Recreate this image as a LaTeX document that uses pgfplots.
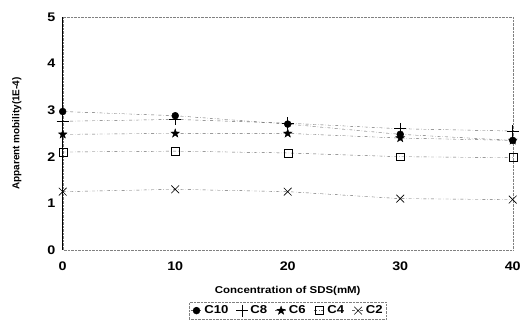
\documentclass[border=0pt]{standalone}
\usepackage{fontspec}
\setmainfont{Liberation Sans}
\newfontfamily\wide[FakeStretch=1.15]{Liberation Sans}
\usepackage{pgfplots}
\pgfplotsset{compat=1.18}
\pgfdeclareplotmark{fstar}{%
  \pgfpathmoveto{\pgfpoint{0pt}{\pgfplotmarksize}}%
  \pgfpathlineto{\pgfpoint{0.235\pgfplotmarksize}{0.324\pgfplotmarksize}}%
  \pgfpathlineto{\pgfpoint{0.951\pgfplotmarksize}{0.309\pgfplotmarksize}}%
  \pgfpathlineto{\pgfpoint{0.380\pgfplotmarksize}{-0.124\pgfplotmarksize}}%
  \pgfpathlineto{\pgfpoint{0.588\pgfplotmarksize}{-0.809\pgfplotmarksize}}%
  \pgfpathlineto{\pgfpoint{0pt}{-0.4\pgfplotmarksize}}%
  \pgfpathlineto{\pgfpoint{-0.588\pgfplotmarksize}{-0.809\pgfplotmarksize}}%
  \pgfpathlineto{\pgfpoint{-0.380\pgfplotmarksize}{-0.124\pgfplotmarksize}}%
  \pgfpathlineto{\pgfpoint{-0.951\pgfplotmarksize}{0.309\pgfplotmarksize}}%
  \pgfpathlineto{\pgfpoint{-0.235\pgfplotmarksize}{0.324\pgfplotmarksize}}%
  \pgfpathclose
  \pgfusepathqfillstroke}
\begin{document}
\begin{tikzpicture}
\begin{axis}[
  scale only axis,
  width=452pt, height=234pt,
  xmin=0, xmax=40, ymin=0, ymax=5,
  xtick={0,10,20,30,40}, ytick={0,1,2,3,4,5},
  axis line style={densely dotted, gray},
  tick style={draw=none},
  ticklabel style={font=\fontsize{12.5}{14}\selectfont\wide\bfseries},
  xticklabel style={yshift=-8pt},
  yticklabel style={xshift=-4pt},
  /pgf/number format/assume math mode=true,
  xlabel={\wide\bfseries Concentration of SDS(mM)},
  ylabel={\bfseries Apparent mobility(1E-4)},
  label style={font=\fontsize{10.7}{12}\selectfont},
  every axis x label/.style={at={(rel axis cs:0.5,0)}, yshift=-41pt, anchor=center},
  every axis y label/.style={at={(rel axis cs:0,0.5)}, xshift=-46pt, rotate=90, anchor=center},
  clip=false,
  legend columns=5,
  legend style={at={(rel axis cs:0.5,0)}, anchor=center, yshift=-61pt, draw=gray, densely dotted, font=\fontsize{11.5}{13}\selectfont\wide\bfseries, inner sep=1.5pt, /tikz/every even column/.append style={column sep=6pt}},
  legend image code/.code={\draw[mark repeat=2, mark phase=2] plot coordinates {(0cm,0cm) (0.2cm,0cm) (0.4cm,0cm)};},
  legend cell align=left,
]
\draw[black, semithick] (rel axis cs:0,0) -- (rel axis cs:0,1);
\coordinate (O) at (rel axis cs:0,0);
\addplot[gray!80!black, dashdotted, thin, mark=*, mark size=3.5pt, mark options={solid, black}] coordinates {(0,2.97) (10,2.88) (20,2.70) (30,2.48) (40,2.35)};
\addlegendentry{C10}
\addplot[gray!80!black, dashdotted, thin, mark=+, mark size=6pt, mark options={solid, black, semithick}] coordinates {(0,2.76) (10,2.80) (20,2.72) (30,2.60) (40,2.55)};
\addlegendentry{C8}
\addplot[gray!80!black, dashdotted, thin, mark=fstar, mark size=4.5pt, mark options={solid, black, fill=black}] coordinates {(0,2.48) (10,2.50) (20,2.50) (30,2.40) (40,2.35)};
\addlegendentry{C6}
\addplot[gray!80!black, dashdotted, thin, mark=square, mark size=4pt, mark options={solid, black}] coordinates {(0,2.10) (10,2.12) (20,2.08) (30,2.00) (40,1.98)};
\addlegendentry{C4}
\addplot[gray!80!black, dashdotted, thin, mark=x, mark size=5.5pt, mark options={solid, black, semithick}] coordinates {(0,1.25) (10,1.30) (20,1.25) (30,1.10) (40,1.08)};
\addlegendentry{C2}
\end{axis}
\useasboundingbox (O) ++(-63pt,-72pt) rectangle ++(524pt,323pt);
\end{tikzpicture}
\end{document}
